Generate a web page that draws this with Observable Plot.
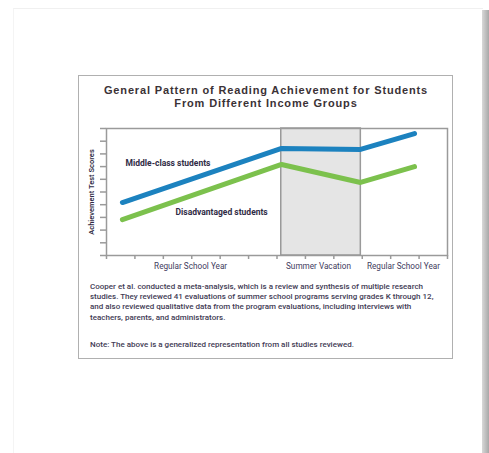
<!DOCTYPE html>
<html>
<head>
<meta charset="utf-8">
<script src="https://cdn.jsdelivr.net/npm/d3@7"></script>
<script src="https://cdn.jsdelivr.net/npm/@observablehq/plot@0.6"></script>
<style>
  html, body { margin: 0; padding: 0; background: #fff; width: 489px; height: 453px; overflow: hidden; }
  body { position: relative; font-family: Roboto, "Open Sans", sans-serif; }
  #page { position: absolute; left: 13px; top: 8px; width: 469px; height: 460px; background: #fff;
          border-top: 1px solid #f0f0f0; border-left: 1px solid #f4f4f4; }
  #shadow { position: absolute; left: 482px; top: 10px; width: 7px; height: 443px;
            background: linear-gradient(to right, #d8d8d8, #a8a8a8); }
  #box { position: absolute; left: 78px; top: 75px; width: 373px; height: 282px; border: 1.5px solid #b0b0b0; background: #fff; }
  #title { position: absolute; left: 78px; top: 84px; width: 376px; text-align: center; font-weight: 700;
           font-family: "Liberation Sans", Arial, sans-serif; font-size: 11px; color: #3b3236; letter-spacing: 0.85px; }
  #title div { height: 12.5px; line-height: 12.5px; white-space: nowrap; }
  #chart { position: absolute; left: 78px; top: 115px; }
  #caption { position: absolute; left: 90px; top: 282px; font-size: 8px; font-weight: 500; line-height: 10.2px; color: #3f3c55; white-space: nowrap; }
  #note { position: absolute; left: 90px; top: 340px; font-size: 8px; font-weight: 500; line-height: 10px; color: #3f3c55; white-space: nowrap; }
</style>
</head>
<body>
<div id="page"></div>
<div id="shadow"></div>
<div id="box"></div>
<div id="title"></div>
<div id="chart"></div>
<div id="caption"></div>
<div id="note"></div>
<script>
// ---- data ----
const titleLines = ["General Pattern of Reading Achievement for Students", "From Different Income Groups"];
const yLabel = "Achievement Test Scores";
const periodX = [0.56, 6.16, 8.94, 10.84];
const middleClass = [4.17, 8.43, 8.35, 9.6];
const disadvantaged = [2.83, 7.17, 5.75, 7.0];
const seriesNames = ["Middle-class students", "Disadvantaged students"];
const seriesLabelX = [0.67, 2.43];
const seriesLabelY = [7.3, 3.4];
const categoryLabels = ["Regular School Year", "Summer Vacation", "Regular School Year"];
const categoryX = [2.96, 7.46, 10.45];
const summerStart = 6.15, summerEnd = 8.95;
const xTicks = d3.range(0, 13);
const yTicks = d3.range(0, 11);
const captionLines = [
  "Cooper et al. conducted a meta-analysis, which is a review and synthesis of multiple research",
  "studies. They reviewed 41 evaluations of summer school programs serving grades K through 12,",
  "and also reviewed qualitative data from the program evaluations, including interviews with",
  "teachers, parents, and administrators."
];
const noteText = "Note: The above is a generalized representation from all studies reviewed.";

// ---- build ----
const titleEl = document.getElementById("title");
titleLines.forEach(t => { const d = document.createElement("div"); d.textContent = t; titleEl.appendChild(d); });
document.getElementById("caption").innerHTML = captionLines.join("<br>");
document.getElementById("note").textContent = noteText;

const mc = periodX.map((x, i) => ({x, y: middleClass[i]}));
const da = periodX.map((x, i) => ({x, y: disadvantaged[i]}));
const labels = seriesNames.map((name, i) => ({name, x: seriesLabelX[i], y: seriesLabelY[i]}));
const cats = categoryLabels.map((name, i) => ({name, x: categoryX[i]}));

const chart = Plot.plot({
  width: 375,
  height: 160,
  marginLeft: 28,
  marginRight: 6,
  marginTop: 13,
  marginBottom: 20,
  style: {fontFamily: "Roboto, sans-serif", background: "transparent", overflow: "visible"},
  x: {domain: [0, 12]},
  y: {domain: [0, 10]},
  marks: [
    Plot.rect([{x1: summerStart, x2: summerEnd}], {x1: "x1", x2: "x2", y1: 0, y2: 10, fill: "#e5e5e5", stroke: "#9a9a9a", strokeWidth: 1.5}),
    Plot.frame({stroke: "#9a9a9a", strokeWidth: 1.5}),
    Plot.axisX({ticks: xTicks, tickSize: 4, tickFormat: () => "", stroke: "#9a9a9a", strokeWidth: 1.5, label: null}),
    Plot.axisY({ticks: yTicks, tickSize: 6, tickFormat: () => "", stroke: "#9a9a9a", strokeWidth: 1.5, label: null}),
    Plot.line(mc, {x: "x", y: "y", stroke: "#1c82bf", strokeWidth: 5, strokeLinejoin: "round", strokeLinecap: "round"}),
    Plot.line(da, {x: "x", y: "y", stroke: "#7cc14d", strokeWidth: 5, strokeLinejoin: "round", strokeLinecap: "round"}),
    Plot.text(labels, {x: "x", y: "y", text: "name", textAnchor: "start", fontSize: 8.5, fontWeight: 700, fill: "#2f2b45"}),
    Plot.text(cats, {x: "x", y: 0, text: "name", dy: 11, fontSize: 8.2, fill: "#3f3c60"}),
    Plot.text([yLabel], {frameAnchor: "left", textAnchor: "middle", rotate: -90, dx: -15, text: d => d, fontSize: 7.5, fontWeight: 600, fill: "#2f2b45", letterSpacing: "0.6px"})
  ]
});
document.getElementById("chart").appendChild(chart);
</script>
</body>
</html>
